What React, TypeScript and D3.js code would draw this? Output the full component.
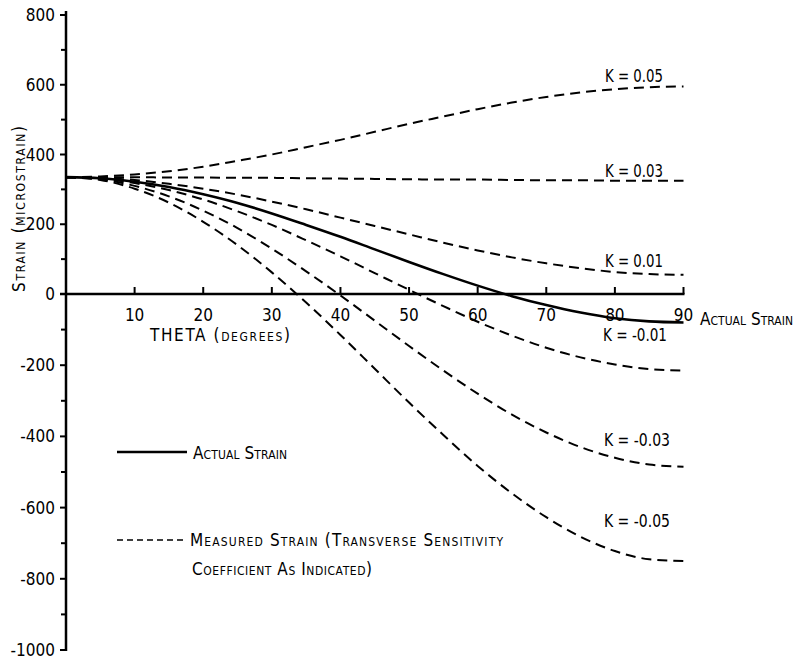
import React from "react";
import * as d3 from "d3";

// ---- data ----
const THETA = [0, 5, 10, 15, 20, 25, 30, 35, 40, 45, 50, 55, 60, 65, 70, 75, 80, 85, 90];
const ACTUAL = [335, 332, 322, 307, 286, 261, 231, 198, 164, 128, 92, 57, 24, -6, -31, -52, -68, -77, -80];
const K_005 = [335, 337, 343, 352, 365, 382, 400, 421, 442, 465, 488, 509, 530, 549, 565, 578, 587, 593, 595];
const K_003 = [335, 335, 335, 334, 334, 333, 333, 332, 331, 330, 329, 328, 328, 327, 326, 326, 325, 325, 325];
const K_001 = [335, 333, 327, 316, 302, 285, 265, 243, 219, 195, 171, 147, 125, 105, 88, 74, 63, 57, 55];
const K_M001 = [335, 331, 318, 298, 271, 237, 198, 154, 108, 60, 12, -34, -78, -117, -151, -178, -198, -211, -215];
const K_M003 = [335, 329, 310, 280, 239, 189, 130, 65, -4, -75, -146, -215, -280, -339, -389, -430, -460, -479, -485];
const K_M005 = [335, 327, 302, 262, 207, 140, 62, -24, -115, -210, -305, -396, -483, -560, -627, -682, -722, -745, -750];
const K_LABELS = ["K = 0.05", "K = 0.03", "K = 0.01", "K = -0.01", "K = -0.03", "K = -0.05"];
const MEASURED = [K_005, K_003, K_001, K_M001, K_M003, K_M005];
const X_TICKS = [10, 20, 30, 40, 50, 60, 70, 80, 90];
const Y_TICKS = [800, 600, 400, 200, 0, -200, -400, -600, -800, -1000];
const Y_MINOR = [700, 500, 300, 100, -100, -300, -500, -700, -900];

const FONT = "'Liberation Sans Narrow', 'DejaVu Sans Condensed', 'DejaVu Sans', sans-serif";

export default function App() {
  const W = 804, H = 659;
  const x = d3.scaleLinear().domain([0, 90]).range([66, 683.5]);
  const y = d3.scaleLinear().domain([-1000, 0, 800]).range([650, 294, 15]);
  const line = d3
    .line<number>()
    .x((_, i) => x(THETA[i]))
    .y((d) => y(d))
    .curve(d3.curveMonotoneX);

  const labelY = [82, 177, 267, 341, 446, 527];
  const labelX = [605, 605, 605, 603, 604, 604];
  const labelW = [58, 58, 58, 64, 66, 66];

  return (
    <svg
      width={W}
      height={H}
      style={{ position: "absolute", left: 0, top: 0, background: "#fff" }}
      fontFamily={FONT}
      fontStretch="condensed"
    >
      <rect x={0} y={0} width={W} height={H} fill="#fff" />
      {/* Y axis */}
      <line x1={x(0)} x2={x(0)} y1={11} y2={651} stroke="#000" strokeWidth={2.5} />
      {Y_TICKS.map((t) => (
        <g key={"yt" + t}>
          <line x1={x(0) - 6} x2={x(0)} y1={y(t)} y2={y(t)} stroke="#000" strokeWidth={2} />
          <text x={55} y={y(t) + 6} textAnchor="end" fontSize={17}>
            {t < 0 ? "-" + Math.abs(t) : t}
          </text>
        </g>
      ))}
      {Y_MINOR.map((t) => (
        <line key={"ym" + t} x1={x(0) - 5} x2={x(0)} y1={y(t)} y2={y(t)} stroke="#000" strokeWidth={2} />
      ))}
      {/* X axis */}
      <line x1={x(0) - 6} x2={x(90) + 1} y1={y(0)} y2={y(0)} stroke="#000" strokeWidth={2.5} />
      {X_TICKS.map((t) => (
        <g key={"xt" + t}>
          <line x1={x(t)} x2={x(t)} y1={y(0) - 7} y2={y(0)} stroke="#000" strokeWidth={2} />
          <text x={x(t)} y={321} textAnchor="middle" fontSize={17}>
            {t}
          </text>
        </g>
      ))}
      {/* axis titles */}
      <text
        transform="translate(25,209) rotate(-90)"
        textAnchor="middle"
        fontSize={17}
        fontVariant="small-caps"
        textLength={166}
        lengthAdjust="spacing"
      >
        Strain (microstrain)
      </text>
      <text x={150} y={341} fontSize={17} fontVariant="small-caps" textLength={140} lengthAdjust="spacing">
        THETA (degrees)
      </text>

      {/* measured curves */}
      {MEASURED.map((s, i) => (
        <path
          key={"m" + i}
          d={line(s) || ""}
          fill="none"
          stroke="#000"
          strokeWidth={2}
          strokeDasharray="10,6"
        />
      ))}
      {/* actual strain */}
      <path d={line(ACTUAL) || ""} fill="none" stroke="#000" strokeWidth={2.6} />

      {/* curve labels */}
      {K_LABELS.map((l, i) => (
        <text
          key={"kl" + i}
          x={labelX[i]}
          y={labelY[i]}
          fontSize={17}
          textLength={labelW[i]}
          lengthAdjust="spacingAndGlyphs"
        >
          {l}
        </text>
      ))}
      <text x={700} y={325} fontSize={17} fontVariant="small-caps" textLength={93} lengthAdjust="spacing">
        Actual Strain
      </text>

      {/* legend */}
      <line x1={117} x2={187} y1={452} y2={452} stroke="#000" strokeWidth={2.4} />
      <text x={193} y={459} fontSize={17} fontVariant="small-caps" textLength={94} lengthAdjust="spacing">
        Actual Strain
      </text>
      <line x1={117} x2={187} y1={540} y2={540} stroke="#000" strokeWidth={1.6} strokeDasharray="6,4" />
      <text x={190} y={546} fontSize={17} fontVariant="small-caps" textLength={313} lengthAdjust="spacing">
        Measured Strain (Transverse Sensitivity
      </text>
      <text x={192} y={575} fontSize={17} fontVariant="small-caps" textLength={180} lengthAdjust="spacing">
        Coefficient As Indicated)
      </text>
    </svg>
  );
}
